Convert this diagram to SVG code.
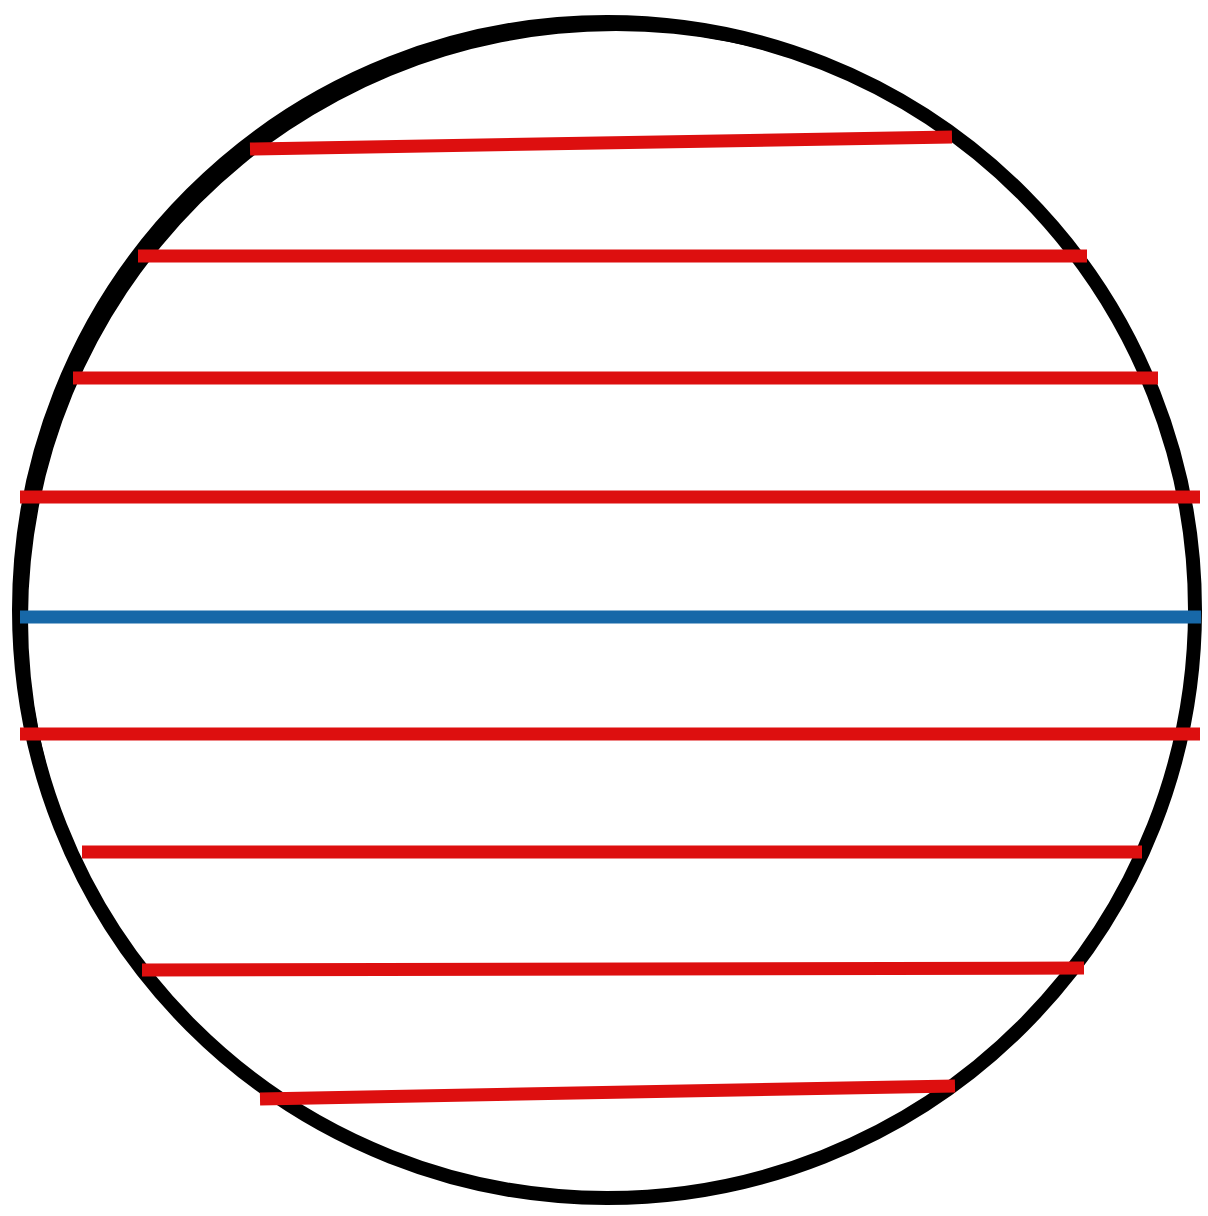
<svg xmlns="http://www.w3.org/2000/svg" width="1208" height="1216" viewBox="0 0 1208 1216">
<style>
.rim{fill:none;stroke:#000;stroke-width:14}
.red{stroke:#dd0f0f;stroke-width:13;stroke-linecap:butt}
.blue{stroke:#1768a8;stroke-width:13;stroke-linecap:butt}
</style>
<defs>
<clipPath id="disk"><circle cx="607" cy="610" r="588"/></clipPath>
</defs>
<rect width="1208" height="1216" fill="#fff"/>
<g id="circle">
<circle class="rim" cx="607" cy="610" r="588"/>
<path clip-path="url(#disk)" fill="#000" fill-rule="evenodd" d="M 19 610 a 588 588 0 1 0 1176 0 a 588 588 0 1 0 -1176 0 Z M 28 619 a 588 588 0 1 0 1176 0 a 588 588 0 1 0 -1176 0 Z"/>
</g>
<g id="lines">
<line class="red" x1="250" y1="149" x2="952" y2="137"/>
<line class="red" x1="138" y1="256" x2="1087" y2="256"/>
<line class="red" x1="73" y1="378" x2="1158" y2="378"/>
<line class="red" x1="20" y1="497" x2="1200" y2="497"/>
<line class="blue" x1="20" y1="617" x2="1201" y2="617"/>
<line class="red" x1="20" y1="734" x2="1200" y2="734"/>
<line class="red" x1="82" y1="852" x2="1142" y2="852"/>
<line class="red" x1="142" y1="970" x2="1084" y2="968"/>
<line class="red" x1="260" y1="1099" x2="955" y2="1086"/>
</g>
</svg>
